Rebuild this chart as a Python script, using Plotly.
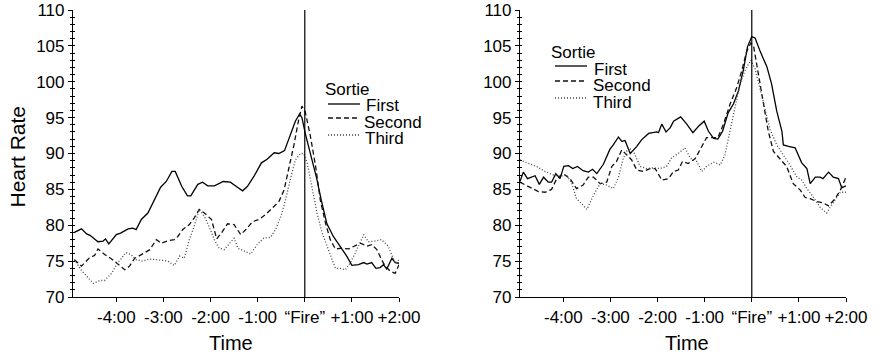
import plotly.graph_objects as go

# ---------------- data: heart rate around the "Fire" moment (minutes) ----------------
tick_vals = [-4, -3, -2, -1, 0, 1, 2]
tick_text = ["-4:00", "-3:00", "-2:00", "-1:00", "\u201cFire\u201d", "+1:00", "+2:00"]
sorties = ["First", "Second", "Third"]

# Left panel
left_first_t = [-4.89, -4.74, -4.63, -4.56, -4.39, -4.28, -4.23, -4.16, -4.0, -3.91, -3.75, -3.65, -3.58,
                -3.47, -3.33, -3.2, -3.06, -2.94, -2.82, -2.75, -2.61, -2.49, -2.42, -2.27, -2.17, -2.06,
                -1.92, -1.73, -1.58, -1.43, -1.32, -1.22, -1.08, -0.92, -0.8, -0.65, -0.55, -0.43, -0.3,
                -0.2, -0.11, -0.06, 0.01, 0.12, 0.25, 0.35, 0.47, 0.61, 0.75, 0.89, 1.0, 1.14, 1.25, 1.32,
                1.42, 1.51, 1.6, 1.67, 1.74, 1.85, 1.92, 2.0]
left_first_v = [79.0, 79.5, 78.8, 78.6, 77.7, 77.8, 78.1, 77.4, 78.7, 78.9, 79.5, 79.6, 79.4,
                80.8, 81.7, 83.5, 85.3, 86.1, 87.5, 87.5, 85.4, 84.1, 84.1, 85.7, 86.0, 85.5,
                85.5, 86.1, 86.0, 85.3, 84.8, 85.4, 86.8, 88.7, 89.2, 90.1, 90.0, 90.4, 92.8,
                94.5, 95.5, 95.0, 92.8, 90.0, 86.6, 83.5, 80.2, 78.4, 77.1, 75.7, 74.4, 74.5, 74.8, 74.6,
                74.8, 74.0, 74.1, 74.5, 73.9, 75.4, 74.8, 74.7]

left_second_t = [-4.89, -4.74, -4.58, -4.46, -4.39, -4.24, -4.1, -3.96, -3.82, -3.72, -3.61, -3.47, -3.29,
                 -3.15, -3.05, -2.87, -2.77, -2.7, -2.59, -2.45, -2.35, -2.24, -2.13, -1.98, -1.87, -1.75,
                 -1.64, -1.5, -1.36, -1.25, -1.11, -0.97, -0.83, -0.69, -0.55, -0.44, -0.34, -0.23, -0.13,
                 -0.06, 0.01, 0.12, 0.23, 0.33, 0.44, 0.54, 0.65, 0.79, 0.93, 1.04, 1.18, 1.32, 1.42, 1.53,
                 1.67, 1.81, 1.92, 2.0]
left_second_v = [75.2, 74.3, 75.4, 75.8, 76.7, 75.9, 75.3, 74.5, 73.8, 74.3, 75.4, 75.9, 76.6,
                 78.0, 77.5, 77.9, 78.0, 78.4, 79.4, 80.1, 81.0, 82.2, 81.7, 80.8, 78.1, 79.1,
                 80.2, 80.1, 78.7, 79.4, 80.5, 80.8, 81.5, 82.4, 83.3, 84.9, 87.7, 91.2, 94.7,
                 96.6, 95.8, 92.4, 88.2, 83.5, 80.3, 78.0, 76.7, 76.8, 76.7, 77.1, 77.5, 77.1, 77.3, 76.6,
                 74.7, 73.6, 73.3, 74.5]

left_third_t = [-4.89, -4.74, -4.63, -4.49, -4.35, -4.25, -4.1, -3.98, -3.89, -3.8, -3.69, -3.58, -3.44,
                -3.3, -3.12, -2.91, -2.77, -2.66, -2.56, -2.45, -2.35, -2.24, -2.13, -2.03, -1.92, -1.82,
                -1.71, -1.61, -1.5, -1.42, -1.29, -1.15, -1.01, -0.87, -0.73, -0.62, -0.51, -0.41, -0.3,
                -0.2, -0.09, -0.02, 0.05, 0.15, 0.26, 0.37, 0.47, 0.58, 0.65, 0.75, 0.86, 0.96, 1.07, 1.25,
                1.35, 1.49, 1.63, 1.77, 1.92, 2.0]
left_third_v = [75.2, 73.7, 72.9, 71.9, 72.3, 72.3, 73.3, 74.7, 75.4, 76.2, 75.9, 75.2, 75.0,
                75.3, 75.2, 75.0, 74.4, 75.7, 75.4, 78.0, 79.8, 82.2, 81.2, 79.8, 78.0, 76.8,
                76.6, 77.3, 78.2, 76.8, 76.4, 76.0, 77.3, 78.2, 78.3, 79.4, 81.2, 83.5, 86.6,
                89.1, 90.0, 90.0, 88.7, 85.4, 81.7, 78.9, 77.1, 75.2, 74.0, 74.0, 73.8, 74.7, 76.1, 78.7,
                77.7, 77.8, 78.0, 77.1, 74.7, 75.2]

# Right panel
right_first_t = [-4.92, -4.85, -4.76, -4.6, -4.51, -4.42, -4.32, -4.25, -4.16, -4.07, -3.99, -3.89, -3.8,
                 -3.7, -3.58, -3.47, -3.38, -3.29, -3.15, -3.01, -2.94, -2.83, -2.76, -2.69, -2.58, -2.44,
                 -2.34, -2.19, -2.02, -1.98, -1.91, -1.82, -1.73, -1.66, -1.51, -1.38, -1.25, -1.13, -1.01,
                 -0.92, -0.81, -0.72, -0.62, -0.5, -0.39, -0.28, -0.18, -0.09, 0.0, 0.07, 0.18, 0.32, 0.42,
                 0.53, 0.64, 0.67, 0.78, 0.92, 1.06, 1.17, 1.24, 1.35, 1.45, 1.51, 1.63, 1.73, 1.84, 1.91,
                 2.0]
right_first_v = [86.1, 87.4, 86.5, 86.9, 85.7, 86.7, 86.0, 86.0, 87.2, 86.5, 88.2, 88.3, 87.9,
                 88.2, 87.6, 87.4, 87.8, 87.2, 88.5, 90.6, 91.2, 92.3, 91.7, 91.8, 90.0, 91.0,
                 91.9, 92.8, 93.0, 92.9, 94.1, 93.0, 93.6, 94.5, 95.1, 94.1, 92.9, 93.8, 94.5,
                 93.1, 92.1, 92.0, 93.1, 95.7, 96.9, 98.8, 101.6, 104.9, 106.3, 106.1, 104.2, 102.1, 99.7,
                 95.9, 93.1, 91.2, 91.0, 90.8, 88.7, 87.9, 85.8, 86.7, 86.7, 86.5, 87.4, 86.7, 86.5, 85.2,
                 85.5]

right_second_t = [-4.92, -4.81, -4.67, -4.53, -4.39, -4.25, -4.14, -4.0, -3.86, -3.72, -3.58, -3.47, -3.36,
                  -3.22, -3.08, -2.97, -2.87, -2.76, -2.65, -2.55, -2.44, -2.3, -2.16, -2.05, -1.91, -1.77,
                  -1.66, -1.56, -1.47, -1.35, -1.2, -1.06, -0.96, -0.81, -0.72, -0.6, -0.46, -0.32, -0.21,
                  -0.11, -0.02, 0.04, 0.14, 0.25, 0.35, 0.46, 0.6, 0.74, 0.88, 1.03, 1.13, 1.24, 1.38, 1.52,
                  1.63, 1.77, 1.88, 2.0]
right_second_v = [86.0, 85.6, 85.1, 84.7, 84.6, 85.0, 86.5, 87.2, 86.5, 85.1, 85.6, 86.7, 86.7,
                  85.8, 86.0, 88.2, 88.9, 90.5, 89.8, 89.1, 87.7, 87.5, 87.9, 87.9, 86.3, 86.5,
                  87.5, 87.7, 88.9, 88.6, 89.3, 91.0, 92.2, 92.2, 92.2, 94.1, 96.9, 99.2, 101.6,
                  104.2, 105.4, 104.9, 101.1, 96.9, 93.1, 90.3, 89.3, 88.2, 85.8, 84.9, 83.9, 83.7, 83.3, 83.1,
                  82.7, 83.7, 84.9, 86.7]

right_third_t = [-4.92, -4.74, -4.57, -4.39, -4.21, -4.07, -3.93, -3.82, -3.72, -3.61, -3.5, -3.36, -3.22,
                 -3.08, -2.94, -2.83, -2.73, -2.62, -2.51, -2.37, -2.23, -2.09, -1.95, -1.81, -1.7, -1.56,
                 -1.42, -1.3, -1.17, -1.06, -0.96, -0.81, -0.67, -0.57, -0.46, -0.35, -0.25, -0.14, -0.02,
                 0.07, 0.18, 0.28, 0.39, 0.53, 0.67, 0.81, 0.96, 1.06, 1.17, 1.31, 1.45, 1.59, 1.73, 1.88,
                 2.0]
right_third_v = [89.1, 88.6, 88.2, 87.5, 87.0, 86.8, 87.0, 85.8, 83.7, 83.0, 82.2, 84.2, 85.8,
                 85.6, 85.1, 86.7, 89.3, 90.8, 90.3, 88.2, 87.9, 88.0, 87.9, 88.2, 89.4, 90.0,
                 90.8, 89.3, 88.9, 87.5, 88.2, 88.8, 88.4, 89.8, 93.1, 96.4, 99.7, 101.6, 103.0,
                 101.8, 98.8, 95.9, 93.3, 91.2, 89.8, 88.4, 86.7, 86.3, 85.1, 83.9, 82.5, 81.7, 83.2, 84.6,
                 84.6]

fire_t = [0, 0]
y_span = [70, 110]

# ---------------- styling ----------------
FONT = "Liberation Sans, Arial, Helvetica, sans-serif"
W, H = 880, 353
styles = {
    "First": dict(color="black", width=1.3, dash="solid"),
    "Second": dict(color="#111", width=1.3, dash="5px,3px"),
    "Third": dict(color="#444", width=1.3, dash="1px,2px"),
}

panels = [
    dict(xa="x", ya="y", yo="y3", series=[(left_first_t, left_first_v), (left_second_t, left_second_v),
                                          (left_third_t, left_third_v)]),
    dict(xa="x2", ya="y2", yo="y4", series=[(right_first_t, right_first_v), (right_second_t, right_second_v),
                                            (right_third_t, right_third_v)]),
]

fig = go.Figure()
for p in panels:
    for name, (t, v) in zip(sorties, p["series"]):
        fig.add_trace(go.Scatter(x=t, y=v, mode="lines", name=name, line=styles[name],
                                 xaxis=p["xa"], yaxis=p["ya"], showlegend=False, hoverinfo="skip"))
    # moment of firing
    fig.add_trace(go.Scatter(x=fire_t, y=y_span, mode="lines", line=dict(color="black", width=1.2),
                             xaxis=p["xa"], yaxis=p["yo"], showlegend=False, hoverinfo="skip"))


def px_x(v):
    return v / W


def px_y(v):
    return (H - v) / H


y_dom = [px_y(297), px_y(10)]
x_dom_l = [px_x(73), px_x(399)]
x_dom_r = [px_x(520), px_x(846)]
x_range = [-4.92, 2.0]

xcommon = dict(range=x_range, tickvals=tick_vals, ticktext=tick_text, ticks="outside", ticklen=4,
               tickwidth=1, tickcolor="black", showline=True, linecolor="black", linewidth=1.2,
               showgrid=False, zeroline=False, automargin=False,
               tickfont=dict(family=FONT, size=17, color="black"))
ycommon = dict(range=y_span, tickvals=[70, 75, 80, 85, 90, 95, 100, 105, 110], ticks="outside", ticklen=4,
               tickwidth=1, tickcolor="black", showline=True, linecolor="black", linewidth=1.2,
               showgrid=False, zeroline=False, automargin=False,
               tickfont=dict(family=FONT, size=17, color="black"),
               minor=dict(dtick=1, ticks="outside", ticklen=2, tickcolor="black", tickwidth=1, showgrid=False))
yover = dict(range=y_span, tickvals=[70, 75, 80, 85, 90, 95, 100, 105, 110], ticks="inside", ticklen=2,
             tickwidth=1, tickcolor="black", showline=False, showgrid=False, zeroline=False,
             showticklabels=False, automargin=False,
             minor=dict(dtick=1, ticks="inside", ticklen=2, tickcolor="black", tickwidth=1, showgrid=False))

fig.update_layout(
    template="none",
    width=W, height=H, margin=dict(l=0, r=0, t=0, b=0, autoexpand=False),
    paper_bgcolor="white", plot_bgcolor="white",
    font=dict(family=FONT, color="black"),
    showlegend=False,
    xaxis=dict(domain=x_dom_l, anchor="y", **xcommon),
    yaxis=dict(domain=y_dom, anchor="x", **ycommon),
    xaxis2=dict(domain=x_dom_r, anchor="y2", **xcommon),
    yaxis2=dict(domain=y_dom, anchor="x2", **ycommon),
    yaxis3=dict(overlaying="y", anchor="x", side="left", **yover),
    yaxis4=dict(overlaying="y2", anchor="x2", side="left", **yover),
)

# axis titles
fig.add_annotation(text="Heart Rate", x=px_x(16.5), y=px_y(157), xref="paper", yref="paper",
                   textangle=-90, showarrow=False, font=dict(family=FONT, size=21),
                   xanchor="center", yanchor="middle")
for cx in (231, 687):
    fig.add_annotation(text="Time", x=px_x(cx), y=px_y(343), xref="paper", yref="paper",
                       showarrow=False, font=dict(family=FONT, size=20),
                       xanchor="center", yanchor="middle")

# legend blocks: title, key line, label (tight rows, so the text boxes are kept short)
legend_blocks = [
    dict(title=(323, 90), rows=[(328, 360, 104, 364, 106), (328, 360, 118, 362, 122), (328, 360, 135, 363, 139)]),
    dict(title=(549, 53), rows=[(555, 587, 66, 592, 69), (555, 587, 81, 591, 85), (555, 587, 98, 591, 102)]),
]
for blk in legend_blocks:
    tx, ty = blk["title"]
    fig.add_annotation(text="Sortie", x=px_x(tx), y=px_y(ty), xref="paper", yref="paper", height=15,
                       showarrow=False, font=dict(family=FONT, size=17), xanchor="left", yanchor="middle")
    for name, (x0, x1, ly, lx, lty) in zip(sorties, blk["rows"]):
        fig.add_shape(type="line", xref="paper", yref="paper", x0=px_x(x0), x1=px_x(x1),
                      y0=px_y(ly), y1=px_y(ly), line=styles[name])
        fig.add_annotation(text=name, x=px_x(lx), y=px_y(lty), xref="paper", yref="paper", height=15,
                           showarrow=False, font=dict(family=FONT, size=17),
                           xanchor="left", yanchor="middle")

fig.write_html("out.html")
